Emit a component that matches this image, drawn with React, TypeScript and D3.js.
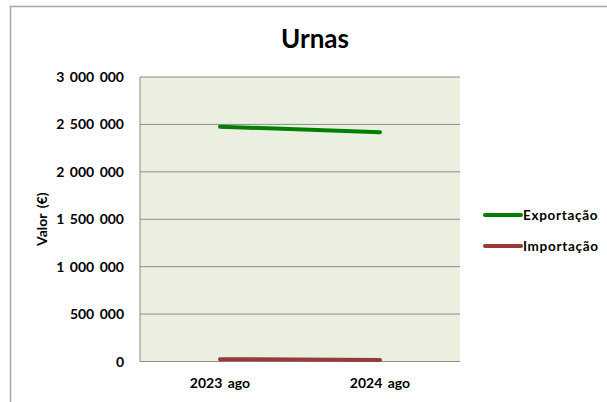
import React from "react";
import * as d3 from "d3";

const categories = ["2023 ago", "2024 ago"];
const exportacao = [2476000, 2418000];
const importacao = [25000, 17000];
const yTicks = [0, 500000, 1000000, 1500000, 2000000, 2500000, 3000000];
const seriesNames = ["Exportação", "Importação"];
const seriesColors = ["#008000", "#983A37"];

const W = 607;
const H = 402;
const plot = { left: 140, top: 77, right: 460, bottom: 361.5 };
const FONT = "Lato, 'Open Sans', sans-serif";

const fmt = (v: number) => d3.format(",")(v).replace(/,/g, " ");

export default function App() {
  const x = d3
    .scaleBand<string>()
    .domain(categories)
    .range([plot.left, plot.right]);
  const y = d3.scaleLinear().domain([0, 3000000]).range([plot.bottom, plot.top]);
  const cx = (c: string) => (x(c) as number) + x.bandwidth() / 2;
  const line = d3
    .line<number>()
    .x((_, i) => cx(categories[i]))
    .y((d) => y(d));
  const series = [exportacao, importacao];

  return (
    <svg
      width={W}
      height={H}
      style={{ position: "absolute", left: 0, top: 0, background: "#fff" }}
      fontFamily={FONT}
    >
      <rect x={10.5} y={6.5} width={620} height={420} fill="#fff" stroke="#a6a6a6" strokeWidth={1.5} />
      <text x={315} y={48} textAnchor="middle" fontSize={26} fontWeight="bold" fill="#000">
        Urnas
      </text>
      <rect
        x={plot.left}
        y={plot.top}
        width={plot.right - plot.left}
        height={plot.bottom - plot.top}
        fill="#EBEFDF"
      />
      {yTicks.map((t) => (
        <g key={t}>
          <line
            x1={plot.left}
            x2={plot.right}
            y1={y(t)}
            y2={y(t)}
            stroke="#8c8c8c"
            strokeWidth={1}
          />
          <text
            x={124}
            y={y(t)}
            dy="0.36em"
            textAnchor="end"
            fontSize={14}
            fontWeight="bold"
            wordSpacing={2}
            fill="#000"
          >
            {fmt(t)}
          </text>
        </g>
      ))}
      <line x1={plot.left} x2={plot.left} y1={plot.top} y2={plot.bottom} stroke="#8c8c8c" strokeWidth={1} />
      {categories.map((c) => (
        <text
          key={c}
          x={cx(c)}
          y={388}
          textAnchor="middle"
          fontSize={14}
          fontWeight="bold"
          wordSpacing={2}
          fill="#000"
        >
          {c}
        </text>
      ))}
      <text
        transform={`translate(47,${(plot.top + plot.bottom) / 2}) rotate(-90)`}
        textAnchor="middle"
        fontSize={14}
        fontWeight="bold"
        wordSpacing={2}
        fill="#000"
      >
        Valor (€)
      </text>
      {series.map((s, i) => (
        <path
          key={i}
          d={line(s) || ""}
          fill="none"
          stroke={seriesColors[i]}
          strokeWidth={4}
          strokeLinecap="round"
        />
      ))}
      {seriesNames.map((n, i) => {
        const ly = 215 + i * 31;
        return (
          <g key={n}>
            <line x1={485} x2={521} y1={ly} y2={ly} stroke={seriesColors[i]} strokeWidth={4} strokeLinecap="round" />
            <text x={523} y={ly} dy="0.36em" fontSize={13.5} fontWeight="bold" letterSpacing={0.7} fill="#000">
              {n}
            </text>
          </g>
        );
      })}
    </svg>
  );
}
